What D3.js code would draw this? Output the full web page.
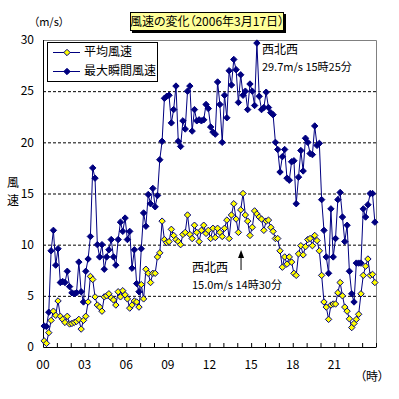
<!DOCTYPE html>
<html>
<head>
<meta charset="utf-8">
<script src="https://cdn.jsdelivr.net/npm/d3@7"></script>
<style>
  body { margin: 0; background: #fff; }
  svg text { font-family: "Noto Sans CJK JP", "Noto Sans", sans-serif; font-feature-settings: "palt"; fill: #000; }
</style>
</head>
<body>
<svg id="chart" width="399" height="399"></svg>
<script>
// 10-minute values, 00:00-00:10 ... 23:50-24:00
let avg_speed = [
  0.6, 0.35, 1.4, 2.6, 3.5, 3.1, 4.5, 3.0, 2.7, 2.4, 3.0, 2.25,
  2.3, 2.4, 2.5, 2.7, 1.75, 2.6, 3.0, 4.4, 6.9, 6.6, 4.9, 4.1,
  3.9, 3.5, 4.9, 5.0, 5.2, 4.8, 4.6, 4.1, 5.4, 4.9, 5.5, 5.1,
  4.7, 3.8, 4.1, 4.5, 4.4, 3.9, 6.1, 4.7, 7.6, 7.2, 6.3, 7.2,
  7.2, 8.8, 9.2, 12.3, 10.5, 10.2, 10.3, 11.5, 10.9, 10.5, 10.3, 10.0,
  11.0, 11.2, 12.9, 11.0, 10.6, 11.9, 11.2, 10.3, 11.4, 11.9, 11.1, 11.4,
  10.6, 11.6, 10.7, 11.6, 11.2, 10.8, 11.6, 12.4, 10.6, 12.9, 14.0, 12.5,
  11.2, 13.4, 15.0, 12.9, 12.3, 10.9, 11.7, 13.3, 13.0, 12.7, 12.5, 11.4,
  12.3, 12.4, 11.7, 11.3, 10.6, 10.6, 9.4, 7.8, 8.8, 8.1, 8.8, 8.3,
  7.2, 7.0, 9.1, 9.9, 9.0, 9.8, 10.5, 10.6, 9.9, 10.9, 10.4, 9.4,
  7.0, 4.4, 3.9, 2.7, 4.1, 4.2, 4.2, 5.3, 6.3, 5.0, 3.9, 3.5,
  2.75, 1.9, 2.3, 2.7, 3.2, 5.2, 7.0, 7.9, 8.6, 7.0, 7.1, 6.3
];
let max_gust = [
  2.05, 2.0, 3.4, 9.4, 11.4, 8.0, 9.6, 6.3, 6.4, 6.3, 7.4, 5.9,
  5.3, 5.2, 5.3, 8.3, 5.4, 4.4, 7.4, 8.6, 10.8, 17.5, 16.5, 10.0,
  8.8, 10.0, 7.6, 8.8, 9.5, 10.5, 8.8, 8.0, 10.5, 12.2, 11.3, 12.6,
  10.5, 11.3, 7.7, 9.5, 6.2, 5.4, 9.6, 13.1, 11.8, 14.9, 14.0, 15.5,
  13.7, 14.8, 18.3, 20.1, 24.3, 24.5, 24.6, 21.9, 23.2, 25.5, 20.1, 19.6,
  22.1, 21.3, 25.0, 25.5, 21.1, 23.2, 22.1, 22.2, 22.1, 22.2, 23.7, 23.3,
  21.5, 21.0, 20.8, 25.9, 23.7, 20.0, 24.6, 22.4, 27.0, 25.6, 28.1, 27.1,
  23.9, 26.6, 24.6, 25.0, 23.2, 25.7, 25.0, 23.6, 29.7, 24.5, 23.2, 23.4,
  24.9, 23.4, 22.9, 22.7, 20.0, 19.3, 17.1, 18.6, 19.3, 16.5, 16.3, 18.1,
  18.2, 14.0, 16.6, 19.2, 17.2, 20.4, 20.0, 18.9, 18.8, 21.6, 19.7, 19.9,
  14.4, 11.4, 8.8, 7.2, 13.5, 8.8, 10.6, 14.4, 15.1, 12.7, 10.3, 11.9,
  7.4, 5.2, 4.4, 8.2, 8.2, 8.2, 13.5, 12.7, 13.9, 15.0, 15.0, 12.2
];
let hour_labels = ["00", "03", "06", "09", "12", "15", "18", "21"];
let y_ticks = [0, 5, 10, 15, 20, 25, 30];
let series_names = ["平均風速", "最大瞬間風速"];
let title_text = "風速の変化（2006年3月17日）";
let max_note = ["西北西", "29.7m/s 15時25分"];
let avg_note = ["西北西", "15.0m/s 14時30分"];
let max_index = 92, avg_index = 86;

let svg = d3.select("#chart");
let plot_left = 43, plot_right = 376, plot_top = 40, plot_bottom = 347;
let navy = "#000080";

let x = d3.scaleBand().domain(d3.range(avg_speed.length)).range([plot_left, plot_right]).padding(0);
let bw = x.bandwidth();
let cx = i => x(i) + bw / 2;
let y = d3.scaleLinear().domain([0, 30]).range([plot_bottom, plot_top]);

// grid
svg.append("g").selectAll("line").data(y_ticks.filter(d => d > 0 && d < 30)).enter().append("line")
  .attr("x1", plot_left).attr("x2", plot_right).attr("y1", d => y(d) + 0.5).attr("y2", d => y(d) + 0.5)
  .attr("stroke", "#000").attr("stroke-dasharray", "3,2");

// frame: top/right gray, left/bottom black
svg.append("path").attr("d", `M${plot_left},${plot_top + 0.5}H${plot_right + 0.5}V${plot_bottom}`)
  .attr("fill", "none").attr("stroke", "#808080");
svg.append("path").attr("d", `M${plot_left + 0.5},${plot_top}V${plot_bottom + 0.5}H${plot_right + 0.5}`)
  .attr("fill", "none").attr("stroke", "#000");

// hour ticks (inside)
let hours = d3.range(1, 25);
svg.append("g").selectAll("line").data(hours).enter().append("line")
  .attr("x1", h => plot_left + h * 6 * bw + 0.5).attr("x2", h => plot_left + h * 6 * bw + 0.5)
  .attr("y1", plot_bottom - 4).attr("y2", plot_bottom)
  .attr("stroke", "#000");

svg.append("g").selectAll("text").data(hour_labels).enter().append("text")
  .attr("x", (d, i) => plot_left + i * 18 * bw).attr("y", 369)
  .attr("text-anchor", "middle").attr("font-size", 12).text(d => d);
svg.append("text").attr("x", 372).attr("y", 381).attr("text-anchor", "middle").attr("font-size", 12).text("（時）");

svg.append("g").selectAll("text").data(y_ticks).enter().append("text")
  .attr("x", 34).attr("y", d => y(d)).attr("dy", "0.36em")
  .attr("text-anchor", "end").attr("font-size", 12).text(d => d);
svg.append("text").attr("x", 49).attr("y", 26).attr("text-anchor", "middle").attr("font-size", 11).text("（m/s）");
svg.append("text").attr("x", 13).attr("y", 187).attr("text-anchor", "middle").attr("font-size", 12).text("風");
svg.append("text").attr("x", 13).attr("y", 205).attr("text-anchor", "middle").attr("font-size", 12).text("速");

// series
let diamond = r => `M0,${-r}L${r},0L0,${r}L${-r},0Z`;
let line = d3.line().x((d, i) => cx(i)).y(d => y(d));

let draw_series = function(values, fill){
  let g = svg.append("g");
  g.append("path").attr("d", line(values)).attr("fill", "none").attr("stroke", navy).attr("stroke-width", 1);
  g.selectAll("path.pt").data(values).enter().append("path").attr("class", "pt")
    .attr("d", diamond(3.2))
    .attr("transform", (d, i) => `translate(${cx(i)},${y(d)})`)
    .attr("fill", fill).attr("stroke", navy).attr("stroke-width", 1);
};
draw_series(max_gust, navy);
draw_series(avg_speed, "#ffff00");

// notes
let mx = cx(max_index) + 5;
svg.append("text").attr("x", mx).attr("y", 54).attr("font-size", 12).text(max_note[0]);
svg.append("text").attr("x", mx).attr("y", 71).attr("font-size", 11).text(max_note[1]);

let ax = cx(avg_index) - 2;
svg.append("text").attr("x", 192).attr("y", 272).attr("font-size", 12).text(avg_note[0]);
svg.append("text").attr("x", 192).attr("y", 289).attr("font-size", 11).text(avg_note[1]);
svg.append("line").attr("x1", ax).attr("x2", ax).attr("y1", 256).attr("y2", 270).attr("stroke", "#000");
svg.append("path").attr("d", `M${ax},${250}L${ax + 3},${258}L${ax - 3},${258}Z`).attr("fill", "#000");

// legend
let lg = svg.append("g").attr("transform", "translate(47,42)");
lg.append("rect").attr("x", 0.5).attr("y", 0.5).attr("width", 110).attr("height", 39)
  .attr("fill", "#fff").attr("stroke", "#000");
let items = lg.selectAll("g").data(series_names).enter().append("g")
  .attr("transform", (d, i) => `translate(0,${10 + i * 19})`);
items.append("line").attr("x1", 6).attr("x2", 33).attr("y1", 0.5).attr("y2", 0.5).attr("stroke", navy);
items.append("path").attr("d", diamond(3.2)).attr("transform", "translate(20,0.5)")
  .attr("fill", (d, i) => i == 0 ? "#ffff00" : navy).attr("stroke", navy);
items.append("text").attr("x", 37).attr("y", 0).attr("dy", "0.36em").attr("font-size", 12).text(d => d);

// title
svg.append("rect").attr("x", 132).attr("y", 14).attr("width", 154).attr("height", 19).attr("fill", "#000");
svg.append("rect").attr("x", 130.5).attr("y", 12.5).attr("width", 153).attr("height", 18)
  .attr("fill", "#ffff99").attr("stroke", "#000");
svg.append("text").attr("x", 207).attr("y", 22).attr("dy", "0.36em").attr("text-anchor", "middle")
  .attr("font-size", 12).text(title_text);
</script>
</body>
</html>
